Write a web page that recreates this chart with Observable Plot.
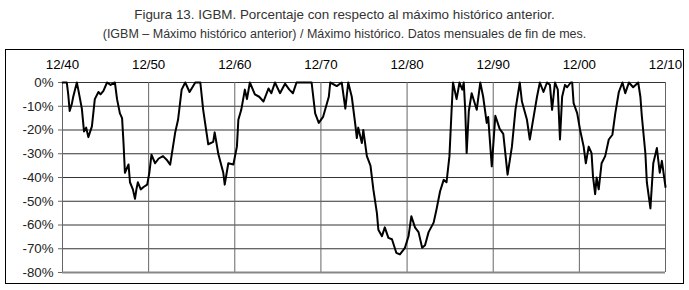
<!DOCTYPE html>
<html>
<head>
<meta charset="utf-8">
<script src="https://cdn.jsdelivr.net/npm/d3@7"></script>
<script src="https://cdn.jsdelivr.net/npm/@observablehq/plot@0.6"></script>
<style>
  html, body { margin: 0; padding: 0; background: #fff; }
  body { width: 689px; height: 290px; position: relative; overflow: hidden;
         font-family: 'Liberation Sans', Arial, sans-serif; }
  .t { position: absolute; left: 0; width: 689px; text-align: center; color: #333; line-height: 16px; white-space: nowrap; }
  #t1 { top: 7px; font-size: 13.4px; }
  #t2 { top: 26px; font-size: 12.5px; }
  #box { position: absolute; left: 5px; top: 49px; width: 679px; height: 235px; box-sizing: border-box;
         border: 1px solid #000; }
  #chart { position: absolute; left: 0; top: 48px; }
</style>
</head>
<body>
<div class="t" id="t1">Figura 13. IGBM. Porcentaje con respecto al máximo histórico anterior.</div>
<div class="t" id="t2">(IGBM – Máximo histórico anterior) / Máximo histórico. Datos mensuales de fin de mes.</div>
<div id="box"></div>
<div id="chart"></div>
<script>
const dates = [
"1940-12","1941-06","1941-08","1941-10","1942-01","1942-03","1942-08","1942-10","1943-03","1943-06",
"1943-09","1943-12","1944-05","1944-09","1945-02","1945-05","1945-09","1946-02","1946-07","1947-01",
"1947-04","1947-08","1947-11","1948-01","1948-03","1948-08","1948-10","1949-02","1949-05","1949-07",
"1949-09","1950-01","1950-05","1950-10","1951-01","1951-04","1951-09","1952-02","1952-08","1953-01",
"1953-06","1954-01","1954-05","1954-10","1955-03","1955-09","1956-05","1956-12","1957-04","1957-11",
"1958-06","1958-08","1959-01","1959-08","1959-10","1960-03","1960-10","1961-03","1961-05","1961-09",
"1962-02","1962-05","1962-09","1963-04","1963-10","1964-04","1964-11","1965-03","1965-08","1966-03",
"1966-10","1967-04","1967-09","1968-02","1969-11","1970-04","1970-09","1971-03","1971-11","1972-01",
"1972-10","1973-05","1973-10","1974-02","1974-07","1974-12","1975-02","1975-04","1975-09","1975-11",
"1976-04","1976-09","1977-01","1977-06","1977-08","1978-01","1978-05","1978-10","1979-03","1979-09",
"1980-02","1980-09","1981-02","1981-06","1981-11","1982-04","1982-09","1983-01","1983-06","1984-01",
"1984-05","1984-10","1985-03","1985-07","1985-11","1986-02","1986-04","1986-09","1987-01","1987-05",
"1987-07","1987-09","1987-11","1988-02","1988-06","1989-01","1989-06","1989-10","1990-03","1990-05",
"1990-10","1991-03","1991-09","1992-02","1992-08","1993-02","1993-07","1994-01","1994-04","1994-11",
"1995-03","1995-08","1996-01","1996-05","1996-10","1997-03","1997-07","1997-10","1998-02","1998-06",
"1998-09","1998-12","1999-04","1999-07","1999-12","2000-02","2000-04","2000-09","2001-01","2001-06",
"2001-09","2002-01","2002-05","2002-07","2002-10","2002-12","2003-03","2003-07","2003-12","2004-05",
"2004-10","2005-02","2005-07","2005-12","2006-04","2006-09","2007-03","2007-10","2008-01","2008-03",
"2008-08","2008-10","2009-03","2009-07","2009-12","2010-04","2010-07","2010-12"
];
const values = [
0,0,-5,-12,-9,-6,0,-3,-11,-20.6,
-19,-23,-18.5,-7,-4,-5,-3.5,0,-1,0,
-7,-13,-15,-25.5,-38,-34.5,-42,-45,-49,-45,
-42,-45,-44,-43,-38,-30.4,-34,-32,-31,-32.5,
-34.6,-21,-15.7,-3,0,-4,0,0,-11.5,-26,
-25,-21,-30,-38,-43,-34,-34.5,-27,-15.7,-11.5,
-3,-7,0,-5,-6,-8,-2.5,-4.5,0,-4.5,
-0.5,-3,-4.5,0,0,-13,-17,-14.5,-6,0,
-1.5,0,-11,0,-6,-18,-23.4,-19,-25.5,-20,
-31,-35,-45,-55,-62,-64.7,-61,-65.4,-66,-71.7,
-72.4,-69.6,-64.7,-56.3,-61,-63,-69.6,-68.5,-63,-59,
-53.5,-45.8,-41,-42,-31,-11.5,0,-7,0,-3,
0,-11.5,-29.7,-12,-4.5,-11.5,0,-6,-17,-14.5,
-35.3,-14,-19.5,-21.6,-38.8,-27,-11.5,0,-8,-15.7,
-24,-15,-6,0,-4,0,-1,-11.5,0,-3,
-24,-6,-1,-2,0,0,-8.7,-13,-20,-27,
-34,-27,-29.7,-39.5,-47,-40,-45,-34,-31,-24,
-22,-13,-4,0,-4.5,0,-2,0,-6,-14,
-30,-42,-53,-34,-27.6,-38,-33,-44
];
const xTickDates = ["1940-12","1950-12","1960-12","1970-12","1980-12","1990-12","2000-12","2010-12"];
const xTickLabels = ["12/40","12/50","12/60","12/70","12/80","12/90","12/00","12/10"];
const yTicks = [0,-10,-20,-30,-40,-50,-60,-70,-80];

const parse = d3.utcParse("%Y-%m");
const data = dates.map((d, i) => ({date: parse(d), value: values[i]}));
const xTicks = xTickDates.map(parse);
const labelMap = new Map(xTicks.map((d, i) => [+d, xTickLabels[i]]));

const chart = Plot.plot({
  width: 689,
  height: 242,
  marginTop: 34,
  marginBottom: 18,
  marginLeft: 62,
  marginRight: 24,
  style: {fontFamily: "'Liberation Sans',Arial,sans-serif", fontSize: "13.3px", background: "transparent"},
  x: {type: "utc", domain: [xTicks[0], xTicks[xTicks.length - 1]]},
  y: {domain: [-80, 0]},
  marks: [
    Plot.ruleY(yTicks.filter(d => d !== -80), {stroke: "#333", strokeWidth: 1}),
    Plot.ruleX(xTicks, {stroke: "#666", strokeWidth: 1}),
    Plot.ruleY([-80], {stroke: "#888", strokeWidth: 2}),
    Plot.line(data, {x: "date", y: "value", stroke: "#000", strokeWidth: 2, strokeLinejoin: "round"}),
    Plot.axisY({ticks: yTicks, tickFormat: d => d + "%", tickSize: 4, tickPadding: 5, stroke: "#666", color: "#222", label: null}),
    Plot.axisX({anchor: "top", ticks: xTicks, tickFormat: d => labelMap.get(+d), tickSize: 0, tickPadding: 14, color: "#000", label: null})
  ]
});
document.getElementById("chart").appendChild(chart);
</script>
</body>
</html>
